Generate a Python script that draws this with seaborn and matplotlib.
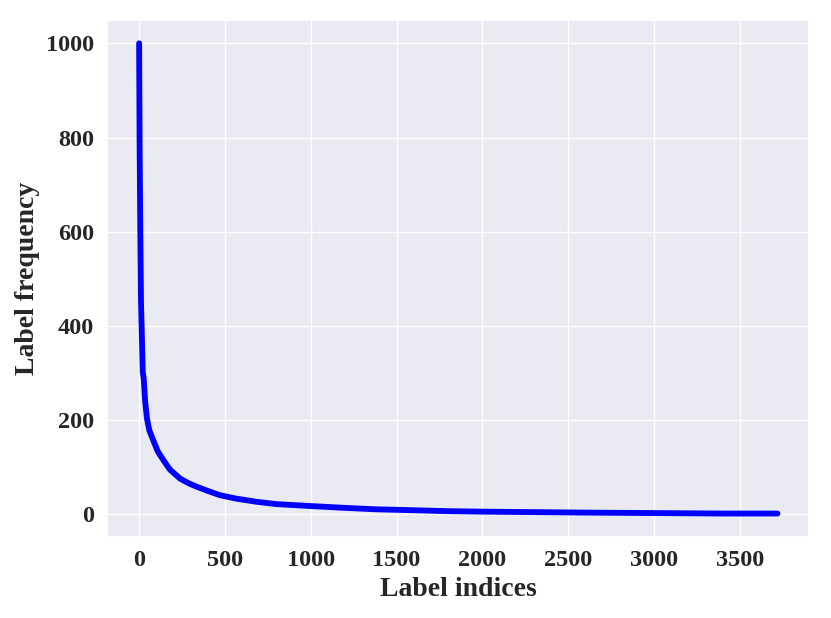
import matplotlib
matplotlib.use("Agg")
import matplotlib.pyplot as plt
import seaborn as sns
import pandas as pd

label_index = [0, 3, 7, 11, 16, 21, 27, 35, 46, 60, 85, 110, 142, 180, 239,
               290, 335, 400, 470, 560, 682, 800, 991, 1200, 1376, 1600, 1800,
               2000, 2300, 2600, 3000, 3400, 3720]
label_freq = [1000, 780, 600, 451, 380, 303, 288, 240, 203, 178, 155, 133, 115,
              95, 76, 66, 59, 50, 41, 34, 27, 22, 18, 14, 11, 9, 7,
              6, 5, 4, 3, 2, 2]

df = pd.DataFrame({"idx": label_index, "freq": label_freq})

sns.set_theme(style="darkgrid")
plt.rcParams['font.family'] = ['Liberation Serif', 'DejaVu Serif']
plt.rcParams['font.weight'] = 'bold'

fig = plt.figure(figsize=(8.31, 6.18), dpi=100)
ax = fig.add_axes([0.129, 0.131, 0.845, 0.837])
sns.lineplot(data=df, x="idx", y="freq", color="#0000ff", linewidth=4.2, ax=ax,
             solid_capstyle="round", solid_joinstyle="round")
ax.set_xlabel("Label indices", fontsize=20, fontweight="bold")
ax.set_ylabel("Label frequency", fontsize=20, fontweight="bold")
ax.set_xticks([0, 500, 1000, 1500, 2000, 2500, 3000, 3500])
ax.set_yticks([0, 200, 400, 600, 800, 1000])
for lab in ax.get_xticklabels() + ax.get_yticklabels():
    lab.set_fontsize(17.5)
    lab.set_fontweight("bold")
fig.savefig("out.png", dpi=100)
